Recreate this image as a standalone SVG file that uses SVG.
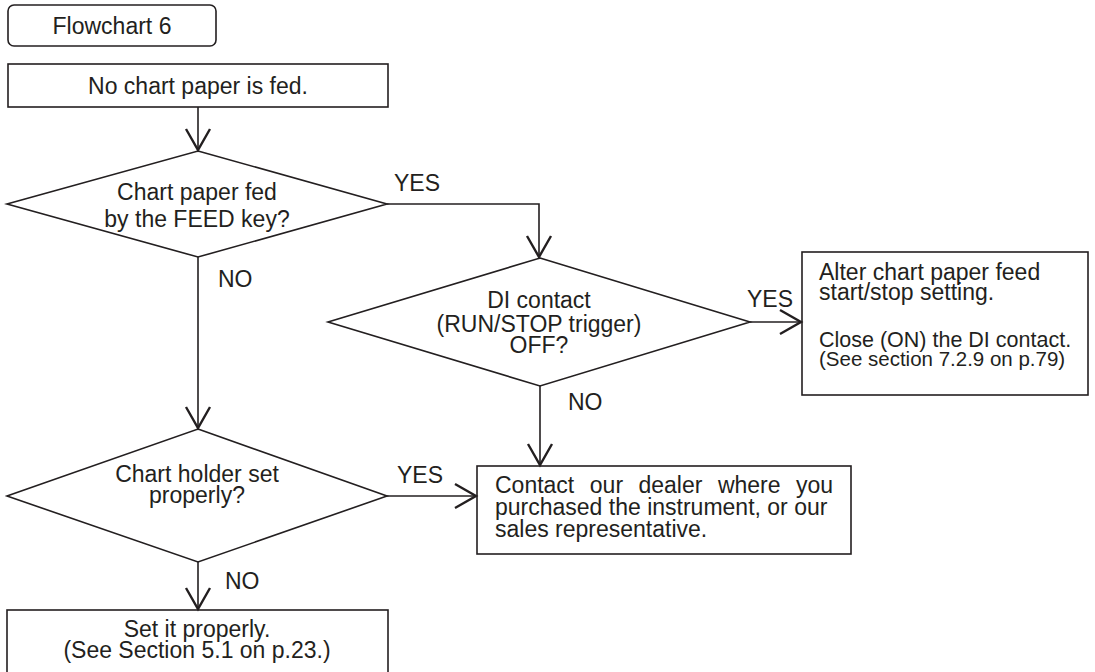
<svg xmlns="http://www.w3.org/2000/svg" width="1095" height="672" viewBox="0 0 1095 672">
  <style>
    .shape { fill: #ffffff; stroke: #231f20; stroke-width: 1.6; }
    .conn { fill: none; stroke: #231f20; stroke-width: 1.6; }
    text { font-family: "Liberation Sans", Arial, sans-serif; font-size: 23px; fill: #231f20; }
    .c { text-anchor: middle; }
  </style>
  <defs>
    <marker id="arr" markerUnits="userSpaceOnUse" markerWidth="30" markerHeight="30" viewBox="-16 -10 20 20" refX="0" refY="0" orient="auto" overflow="visible">
      <path d="M -14 -8 L 0 0 L -14 8" fill="none" stroke="#231f20" stroke-width="1.6"/>
    </marker>
  </defs>
  <rect width="1095" height="672" fill="#ffffff"/>

  <g id="title">
    <rect class="shape" x="8" y="5" width="208" height="41" rx="6"/>
    <text class="c" x="112" y="34">Flowchart 6</text>
  </g>

  <g id="start">
    <rect class="shape" x="8" y="64" width="380" height="43"/>
    <text class="c" x="198" y="94">No chart paper is fed.</text>
  </g>

  <g id="decision1">
    <polygon class="shape" points="198,151 387,204 198,257 7,204"/>
    <text class="c" x="197" y="200">Chart paper fed</text>
    <text class="c" x="197" y="227">by the FEED key?</text>
  </g>

  <g id="decision2">
    <polygon class="shape" points="540,258 750,322 540,386 328,322"/>
    <text class="c" x="539" y="308">DI contact</text>
    <text class="c" x="539" y="332">(RUN/STOP trigger)</text>
    <text class="c" x="539" y="353">OFF?</text>
  </g>

  <g id="alter">
    <rect class="shape" x="802" y="252" width="286" height="143"/>
    <text x="819" y="280">Alter chart paper feed</text>
    <text x="819" y="300">start/stop setting.</text>
    <text x="819" y="347" style="font-size:21.5px">Close (ON) the DI contact.</text>
    <text x="819" y="366" style="font-size:20.5px">(See section 7.2.9 on p.79)</text>
  </g>

  <g id="decision3">
    <polygon class="shape" points="198,429 387,496 198,562 7,496"/>
    <text class="c" x="197" y="482">Chart holder set</text>
    <text class="c" x="197" y="503">properly?</text>
  </g>

  <g id="contact">
    <rect class="shape" x="477" y="466" width="374" height="88"/>
    <text y="493"><tspan x="495">Contact</tspan><tspan x="589.8">our</tspan><tspan x="638.5">dealer</tspan><tspan x="717.9">where</tspan><tspan x="796">you</tspan></text>
    <text x="495" y="515">purchased the instrument, or our</text>
    <text x="495" y="537">sales representative.</text>
  </g>

  <g id="setit">
    <rect class="shape" x="7" y="610" width="381" height="80"/>
    <text class="c" x="197" y="637">Set it properly.</text>
    <text class="c" x="197" y="658">(See Section 5.1 on p.23.)</text>
  </g>

  <g id="connectors">
    <path class="conn" d="M198,107 L198,150" marker-end="url(#arr)"/>
    <path class="conn" d="M387,204 L539,204 L539,257" marker-end="url(#arr)"/>
    <path class="conn" d="M198,257 L198,428" marker-end="url(#arr)"/>
    <path class="conn" d="M750,322 L801,322" marker-end="url(#arr)"/>
    <path class="conn" d="M540,386 L540,465" marker-end="url(#arr)"/>
    <path class="conn" d="M387,496 L476,496" marker-end="url(#arr)"/>
    <path class="conn" d="M198,562 L198,609" marker-end="url(#arr)"/>
    <text x="394" y="191">YES</text>
    <text x="218" y="287">NO</text>
    <text x="747" y="307">YES</text>
    <text x="568" y="410">NO</text>
    <text x="397" y="483">YES</text>
    <text x="225" y="589">NO</text>
  </g>
</svg>
